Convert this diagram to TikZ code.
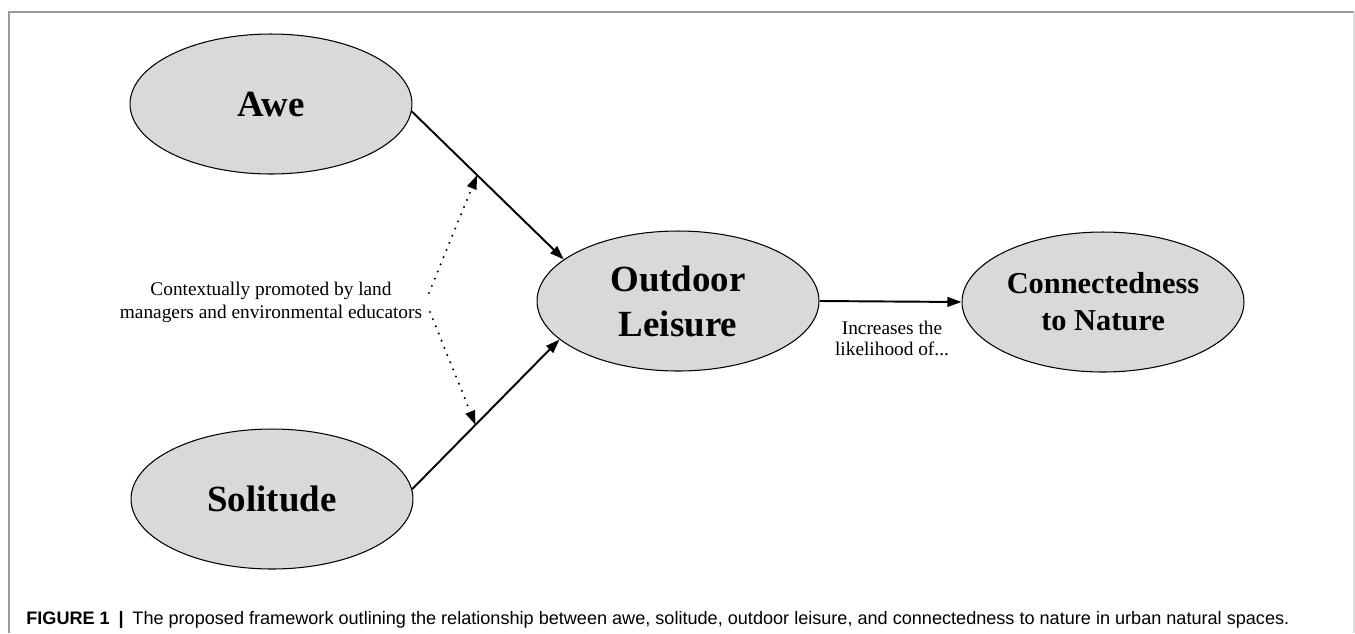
\documentclass[tikz,border=0pt]{standalone}
\usepackage{fontspec}
\setmainfont{Liberation Serif}
\newfontfamily\capfont{Liberation Sans}
\usetikzlibrary{shapes.geometric,arrows.meta,calc}

\definecolor{factorgray}{HTML}{D9D9D9}
\definecolor{framegray}{HTML}{9A9A9A}

\tikzset{
  factor/.style={ellipse,draw=black,line width=0.6pt,fill=factorgray,
    minimum width=5.64cm,minimum height=2.8cm,inner sep=0pt,align=center,
    font=\fontsize{21}{25.6}\selectfont\bfseries},
  link/.style={line width=1.1pt,-{Triangle[length=8pt,width=5.5pt]}},
  moderate/.style={line width=1.3pt,line cap=round,dash pattern=on 0pt off 4.4pt,
    -{Triangle[length=8pt,width=5.5pt]}},
  note/.style={align=center,inner sep=0pt}
}

\begin{document}
\begin{tikzpicture}[x=0.02cm,y=-0.02cm]
  \useasboundingbox (0,0) rectangle (1355,633);
  % frame of the figure
  \draw[framegray,line width=0.6pt] (9,633) -- (9,12) -- (1354,12);
  \draw[gray!25,line width=0.6pt] (1354,12) -- (1354,633);

  \node[factor] (awe) at (271,104) {Awe};
  \node[factor] (solitude) at (272,499) {Solitude};
  \node[factor] (leisure) at (678,301) {Outdoor\\Leisure};
  \node[factor,font=\fontsize{17.3}{21}\selectfont\bfseries] (nature) at (1103,302) {Connectedness\\to Nature};

  \draw[link] (awe.-3) -- (leisure.160) coordinate[pos=0.43] (aweMid);
  \draw[link] (solitude.4) -- (leisure.198) coordinate[pos=0.43] (solMid);
  \draw[link] (leisure.east) -- (nature.west);

  \node[note,font=\fontsize{11}{13}\selectfont] (ctx) at (271,302)
    {Contextually promoted by land\\managers and environmental educators};
  \coordinate (ctxUp) at (429,293);
  \coordinate (ctxDown) at (430,312);
  \draw[moderate] (ctxUp) -- (aweMid);
  \draw[moderate] (ctxDown) -- (solMid);

  \node[note,font=\fontsize{11}{12}\selectfont] (likely) at (892,338)
    {Increases the\\likelihood of...};

  % caption
  \node[anchor=west,inner sep=0pt,font=\capfont\fontsize{10.3}{12}\selectfont] (caption) at (26,620)
    {\textbf{FIGURE 1}\hspace{5pt}\textbf{|}\hspace{5pt}The proposed framework outlining the relationship between awe, solitude, outdoor leisure, and connectedness to nature in urban natural spaces.};
\end{tikzpicture}
\end{document}
